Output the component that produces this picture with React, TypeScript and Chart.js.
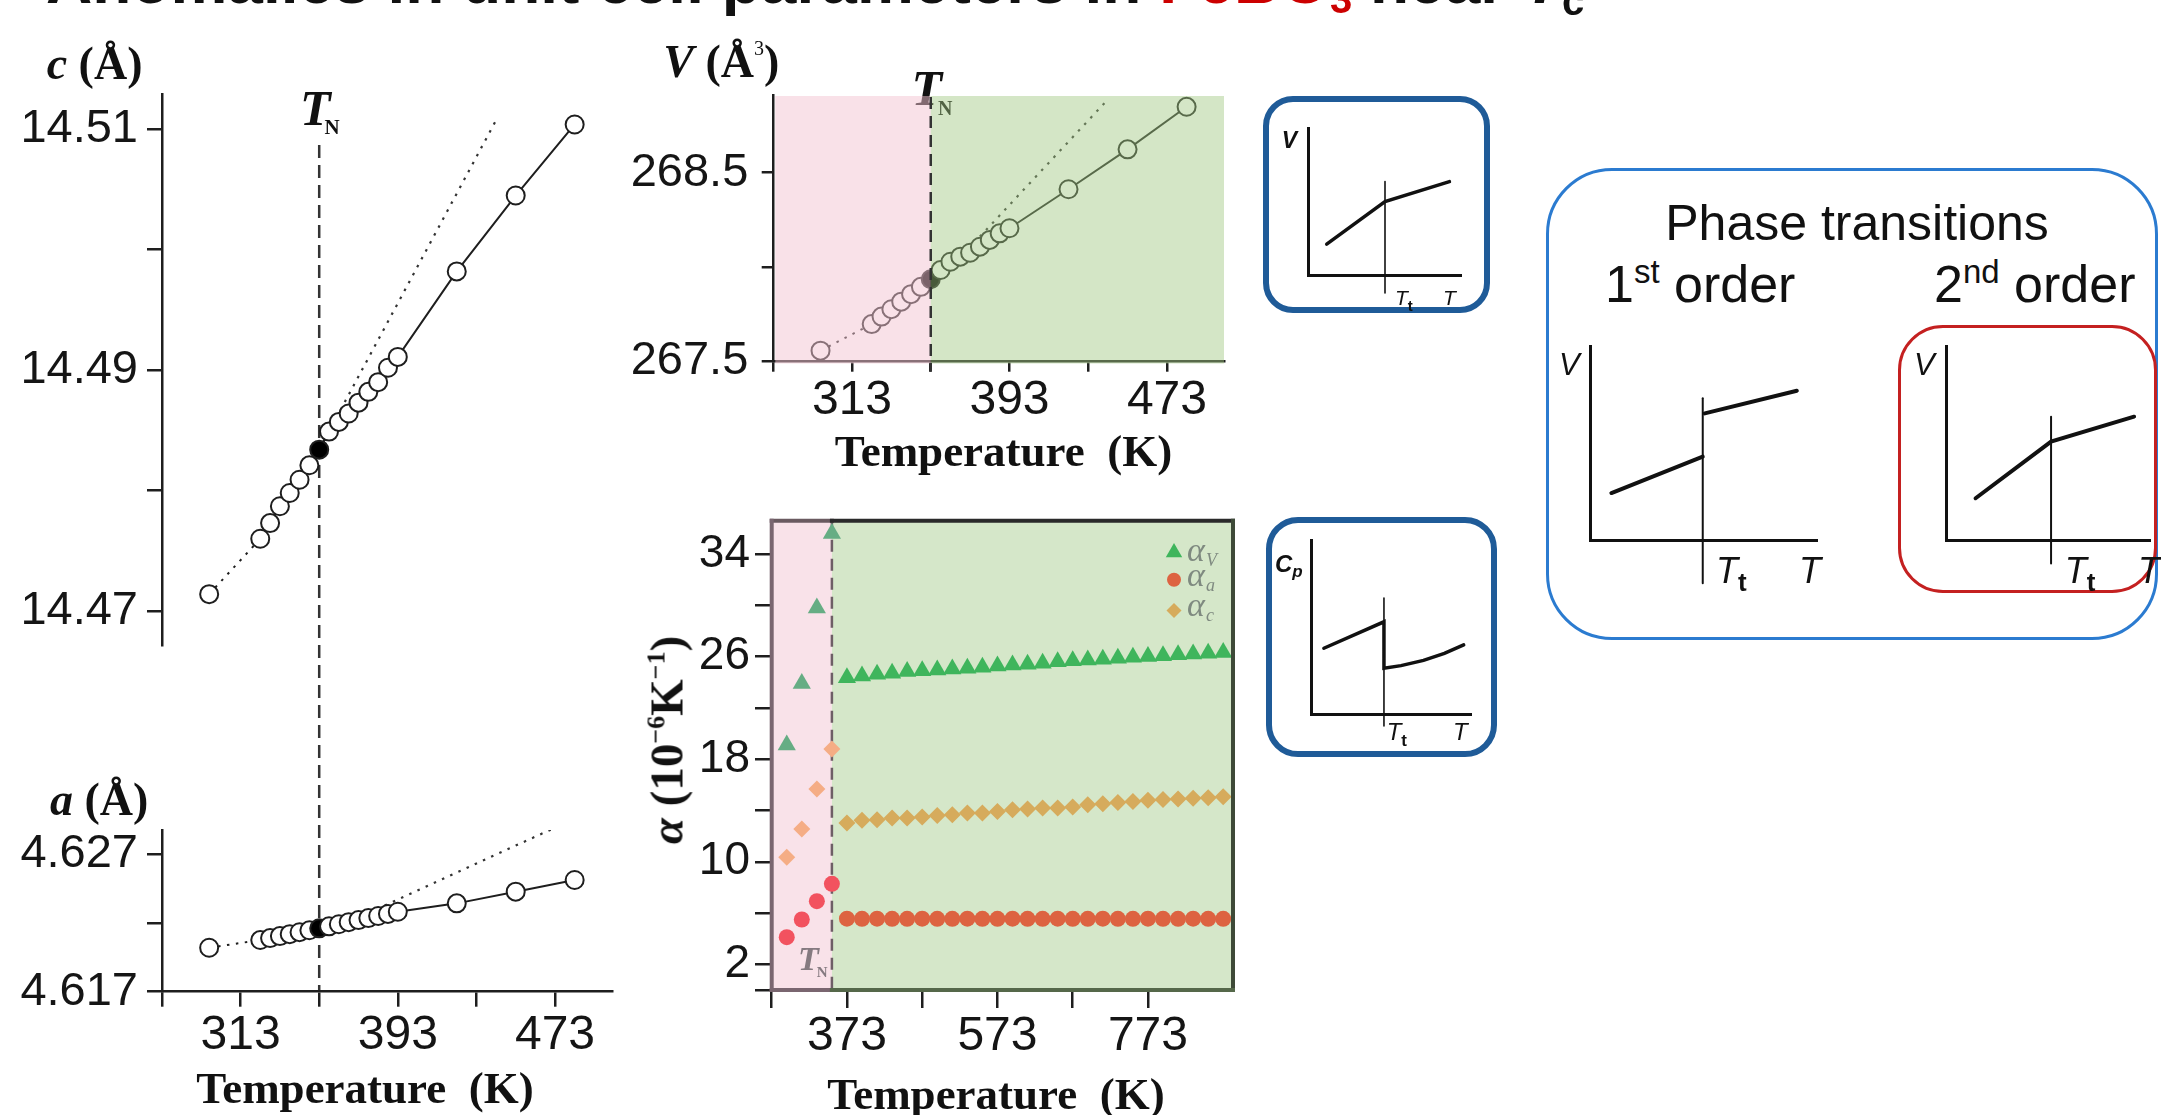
import React, { useEffect, useRef } from "react";
import { Chart, registerables } from "chart.js";

Chart.register(...registerables);

const SANS = "'Liberation Sans', Arial, Helvetica, sans-serif";
const SERIF = "'Liberation Serif', 'Times New Roman', Times, serif";
const INK = "#1e1e1e";

// ---------------- data ----------------
const T_N = 353;
const cellTemps = [297, 323, 328, 333, 338, 343, 348, 353, 358, 363, 368, 373, 378, 383, 388, 393, 423, 453, 483];
const cValues = [14.4714, 14.476, 14.4773, 14.4787, 14.4798, 14.4809, 14.4821, 14.4834, 14.4849, 14.4857, 14.4864, 14.4873, 14.4882, 14.489, 14.4902, 14.4911, 14.4982, 14.5045, 14.5104];
const aValues = [4.6202, 4.62076, 4.6209, 4.62105, 4.62119, 4.62133, 4.62147, 4.62161, 4.62176, 4.62191, 4.62206, 4.62221, 4.62236, 4.62251, 4.62266, 4.62282, 4.62343, 4.62428, 4.62513];
const vValues = [267.555, 267.696, 267.736, 267.775, 267.815, 267.855, 267.894, 267.934, 267.983, 268.027, 268.054, 268.075, 268.107, 268.143, 268.178, 268.205, 268.412, 268.624, 268.85];

const cTrendT = [353, 443.5];
const cTrendY = [14.4834, 14.5109];
const aTrendT = [353, 478.5];
const aTrendY = [4.6211, 4.6293];
const vTrendT = [353, 442.4];
const vTrendY = [267.881, 268.882];

const tempTicks = [273, 313, 353, 393, 433, 473];
const tempLabels = [313, 393, 473];
const cTicks = [14.47, 14.48, 14.49, 14.5, 14.51];
const cLabels = [14.47, 14.49, 14.51];
const aTicks = [4.617, 4.622, 4.627];
const aLabels = [4.617, 4.627];
const vTicks = [267.5, 268.0, 268.5];
const vLabels = [267.5, 268.5];

const alphaTempsLow = [293, 313, 333, 353];
const alphaVLow = [19.1, 23.9, 29.8, 35.6];
const alphaCLow = [10.35, 12.56, 15.67, 18.79];
const alphaALow = [4.12, 5.5, 6.93, 8.28];
const alphaTempsHigh = [373, 393, 413, 433, 453, 473, 493, 513, 533, 553, 573, 593, 613, 633, 653, 673, 693, 713, 733, 753, 773, 793, 813, 833, 853, 873];
const alphaVHigh = [24.36, 24.49, 24.62, 24.7, 24.83, 24.9, 24.96, 25.04, 25.09, 25.17, 25.27, 25.35, 25.4, 25.48, 25.6, 25.68, 25.74, 25.79, 25.87, 25.95, 26.0, 26.07, 26.14, 26.2, 26.27, 26.33];
const alphaCHigh = [13.03, 13.23, 13.28, 13.41, 13.41, 13.49, 13.6, 13.67, 13.8, 13.8, 13.93, 14.06, 14.12, 14.2, 14.2, 14.27, 14.45, 14.53, 14.63, 14.71, 14.79, 14.85, 14.9, 14.95, 15.0, 15.08];
const alphaAHigh = [5.56, 5.55, 5.56, 5.55, 5.55, 5.56, 5.55, 5.55, 5.56, 5.55, 5.55, 5.56, 5.55, 5.55, 5.56, 5.55, 5.55, 5.56, 5.55, 5.55, 5.56, 5.55, 5.55, 5.56, 5.55, 5.55];
const alphaTempTicks = [273, 373, 473, 573, 673, 773];
const alphaTempLabels = [373, 573, 773];
const alphaTicks = [0, 2, 6, 10, 14, 18, 22, 26, 30, 34];
const alphaLabels = [2, 10, 18, 26, 34];

// schematic sketches (arbitrary units 0..10)
const sketchVT = [1.2, 5.0, 9.2];
const sketchV = [2.1, 5.0, 6.35];
const sketchVTtX = [5.0, 5.0];
const sketchVTtY = [-1.22, 6.35];
const sketchCpT = [0.8, 4.54, 4.54, 5.6, 7.0, 8.3, 9.5];
const sketchCp = [3.78, 5.3, 2.63, 2.78, 3.08, 3.48, 3.97];
const sketchCpTtX = [4.54, 4.54];
const sketchCpTtY = [-0.69, 6.67];
const firstLowT = [0.93, 4.96];
const firstLowV = [2.43, 4.31];
const firstHighT = [5.05, 9.11];
const firstHighV = [6.55, 7.72];
const firstTtX = [4.96, 4.96];
const firstTtY = [-2.24, 7.33];
const secondT = [1.45, 5.15, 9.22];
const secondV = [2.16, 5.09, 6.38];
const secondTtX = [5.15, 5.15];
const secondTtY = [-1.21, 6.38];

// ---------------- helpers ----------------
type Pad = { left: number; right: number; top: number; bottom: number };

const pts = (xs: number[], ys: number[]) => xs.map((x, i) => ({ x, y: ys[i] }));

function baseOptions(padding: Pad) {
  return {
    responsive: false,
    maintainAspectRatio: false,
    animation: false as const,
    devicePixelRatio: 1,
    events: [] as any[],
    layout: { padding },
    plugins: { legend: { display: false }, tooltip: { enabled: false }, title: { display: false } },
  };
}

function fixedTicks(values: number[]) {
  return (scale: any) => {
    scale.ticks = values.map((v) => ({ value: v }));
  };
}
function labelOnly(labels: number[], digits: number) {
  return (value: any) => {
    const v = Number(value);
    return labels.some((l) => Math.abs(l - v) < 1e-7) ? v.toFixed(digits) : "";
  };
}

function valueAxis(o: {
  min: number; max: number; ticks: number[]; labels: number[]; digits: number;
  width: number; tickLength: number; padding: number; fontSize: number; border?: boolean;
}) {
  return {
    type: "linear",
    min: o.min,
    max: o.max,
    afterBuildTicks: fixedTicks(o.ticks),
    afterFit: (s: any) => { s.width = o.width; },
    grid: { drawOnChartArea: false, drawTicks: true, tickLength: o.tickLength, color: INK, lineWidth: 2.5 },
    border: { display: o.border !== false, color: INK, width: 2.5 },
    ticks: { autoSkip: false, callback: labelOnly(o.labels, o.digits), padding: o.padding, color: "#151515", font: { family: SANS, size: o.fontSize } },
  };
}

function tempAxis(o: {
  min: number; max: number; ticks: number[]; labels: number[];
  height: number; tickLength: number; padding: number; border?: boolean;
}) {
  return {
    type: "linear",
    min: o.min,
    max: o.max,
    afterBuildTicks: fixedTicks(o.ticks),
    afterFit: (s: any) => { s.height = o.height; },
    grid: { drawOnChartArea: false, drawTicks: true, tickLength: o.tickLength, color: INK, lineWidth: 2.5 },
    border: { display: o.border !== false, color: INK, width: 2.5 },
    ticks: { autoSkip: false, maxRotation: 0, minRotation: 0, callback: labelOnly(o.labels, 0), padding: o.padding, color: "#151515", font: { family: SANS, size: 48 } },
  };
}

function cellSeries(xs: number[], ys: number[]) {
  return {
    data: pts(xs, ys),
    borderColor: INK,
    borderWidth: 2,
    tension: 0,
    fill: false,
    pointRadius: 9,
    pointBorderWidth: 2,
    pointBorderColor: INK,
    pointBackgroundColor: xs.map((t) => (t === T_N ? "#000" : "#fff")),
    segment: { borderDash: (ctx: any) => (ctx.p0DataIndex === 0 ? [2.5, 6.5] : undefined) },
  };
}
function trendSeries(xs: number[], ys: number[]) {
  return { data: pts(xs, ys), borderColor: "#333", borderWidth: 2.2, borderDash: [2.5, 6.5], pointRadius: 0, fill: false, tension: 0 };
}

function dashedTN(yTop: number, yBottom: number) {
  return {
    id: "dashedTN",
    beforeDatasetsDraw(chart: any) {
      const x = chart.scales.x.getPixelForValue(T_N);
      const ctx = chart.ctx;
      ctx.save();
      ctx.strokeStyle = "#333";
      ctx.lineWidth = 2.5;
      ctx.setLineDash([13, 7]);
      ctx.beginPath();
      ctx.moveTo(x, yTop);
      ctx.lineTo(x, yBottom);
      ctx.stroke();
      ctx.restore();
    },
  };
}

// ---------------- chart configs ----------------
function cConfig() {
  return {
    type: "line",
    data: { datasets: [cellSeries(cellTemps, cValues), trendSeries(cTrendT, cTrendY)] },
    options: {
      ...baseOptions({ left: 0, right: 28, top: 94, bottom: 470 }),
      scales: {
        x: { type: "linear", min: 273, max: 502, display: false },
        y: valueAxis({ min: 14.467177, max: 14.512931, ticks: cTicks, labels: cLabels, digits: 2, width: 162, tickLength: 15, padding: 9, fontSize: 47 }),
      },
    },
    plugins: [dashedTN(145, 992)],
  };
}

function aConfig() {
  return {
    type: "line",
    data: { datasets: [cellSeries(cellTemps, aValues), trendSeries(aTrendT, aTrendY)] },
    options: {
      ...baseOptions({ left: 0, right: 28, top: 130, bottom: 0 }),
      scales: {
        x: tempAxis({ min: 273, max: 502, ticks: tempTicks, labels: tempLabels, height: 123.3, tickLength: 15, padding: 0 }),
        y: valueAxis({ min: 4.617, max: 4.62877, ticks: aTicks, labels: aLabels, digits: 3, width: 162, tickLength: 15, padding: 9, fontSize: 47 }),
      },
    },
  };
}

const vDecor = {
  id: "vDecor",
  afterDatasetsDraw(chart: any) {
    const ctx = chart.ctx;
    const x = chart.scales.x.getPixelForValue(T_N);
    ctx.save();
    ctx.fillStyle = "#111";
    ctx.textBaseline = "alphabetic";
    ctx.font = `italic bold 50px ${SERIF}`;
    ctx.fillText("T", x - 19.3, 105);
    ctx.font = `bold 20px ${SERIF}`;
    ctx.fillText("N", x + 7.3, 115);
    ctx.restore();
  },
  afterDraw(chart: any) {
    const ctx = chart.ctx;
    const { left, right, top, bottom } = chart.chartArea;
    const x = chart.scales.x.getPixelForValue(T_N);
    ctx.save();
    ctx.fillStyle = "rgba(243,195,209,0.5)";
    ctx.fillRect(left + 2, top + 1, x - left - 2, bottom - top + 1.5);
    ctx.fillStyle = "rgba(159,199,128,0.45)";
    ctx.fillRect(x, top + 1, right - x, bottom - top + 1.5);
    ctx.strokeStyle = "#333";
    ctx.lineWidth = 2.5;
    ctx.setLineDash([12, 7]);
    ctx.beginPath();
    ctx.moveTo(x, top + 2);
    ctx.lineTo(x, bottom + 10.7);
    ctx.stroke();
    ctx.restore();
  },
};

function vConfig() {
  return {
    type: "line",
    data: { datasets: [cellSeries(cellTemps, vValues), trendSeries(vTrendT, vTrendY)] },
    options: {
      ...baseOptions({ left: 0, right: 36, top: 95, bottom: 0 }),
      scales: {
        x: tempAxis({ min: 273, max: 502, ticks: tempTicks, labels: tempLabels, height: 139, tickLength: 10.7, padding: 0 }),
        y: valueAxis({ min: 267.5, max: 268.9126, ticks: vTicks, labels: vLabels, digits: 1, width: 213.3, tickLength: 11.6, padding: 13.4, fontSize: 47 }),
      },
    },
    plugins: [vDecor],
  };
}

function drawMarker(ctx: any, kind: string, x: number, y: number, r: number, color: string) {
  ctx.fillStyle = color;
  ctx.beginPath();
  if (kind === "triangle") {
    ctx.moveTo(x, y - r);
    ctx.lineTo(x + 0.866 * r, y + 0.5 * r);
    ctx.lineTo(x - 0.866 * r, y + 0.5 * r);
  } else if (kind === "circle") {
    ctx.arc(x, y, r, 0, Math.PI * 2);
  } else {
    ctx.moveTo(x, y - r);
    ctx.lineTo(x + r, y);
    ctx.lineTo(x, y + r);
    ctx.lineTo(x - r, y);
  }
  ctx.closePath();
  ctx.fill();
}

const alphaLegend = [
  { kind: "triangle", color: "#3fb55c", sub: "V", r: 9.5, dy: 31.7, ty: 40.1 },
  { kind: "circle", color: "#dd6341", sub: "a", r: 7, dy: 59, ty: 65.3 },
  { kind: "diamond", color: "#d6ab5c", sub: "c", r: 7.5, dy: 89.7, ty: 95.6 },
];

const alphaDecor = {
  id: "alphaDecor",
  beforeDatasetsDraw(chart: any) {
    const ctx = chart.ctx;
    const { left, right, top, bottom } = chart.chartArea;
    const x = chart.scales.x.getPixelForValue(T_N);
    ctx.save();
    ctx.fillStyle = "#f9e2e9";
    ctx.fillRect(left, top, x - left, bottom - top);
    ctx.fillStyle = "#d5e7c9";
    ctx.fillRect(x, top, right - x, bottom - top);
    ctx.strokeStyle = "#6e5e66";
    ctx.lineWidth = 2.5;
    ctx.setLineDash([12, 7]);
    ctx.beginPath();
    ctx.moveTo(x, top);
    ctx.lineTo(x, bottom);
    ctx.stroke();
    ctx.setLineDash([]);
    ctx.fillStyle = "#857a80";
    ctx.font = `italic bold 34px ${SERIF}`;
    ctx.fillText("T", x - 34, bottom - 20);
    ctx.font = `bold 15px ${SERIF}`;
    ctx.fillText("N", x - 15.2, bottom - 13);
    ctx.restore();
  },
  afterDatasetsDraw(chart: any) {
    const ctx = chart.ctx;
    const { left, right, top, bottom } = chart.chartArea;
    const x = chart.scales.x.getPixelForValue(T_N);
    ctx.save();
    ctx.lineWidth = 4;
    ctx.lineCap = "square";
    const seg = (x1: number, y1: number, x2: number, y2: number, c: string) => {
      ctx.strokeStyle = c;
      ctx.beginPath();
      ctx.moveTo(x1, y1);
      ctx.lineTo(x2, y2);
      ctx.stroke();
    };
    seg(left, top, x, top, "#6a5a60");
    seg(x, top, right, top, "#2a2a2a");
    seg(right, top, right, bottom, "#3e4a38");
    seg(left, bottom, x, bottom, "#7a6670");
    seg(x, bottom, right, bottom, "#55684a");
    seg(left, top, left, bottom, "#7a6670");
    // legend
    for (const item of alphaLegend) {
      drawMarker(ctx, item.kind, right - 59, top + item.dy, item.r, item.color);
      ctx.fillStyle = "#7f8a80";
      ctx.font = `italic 34px ${SERIF}`;
      ctx.fillText("\u03b1", right - 46, top + item.ty);
      ctx.font = `italic 18px ${SERIF}`;
      ctx.fillText(item.sub, right - 27, top + item.ty + 5);
    }
    ctx.restore();
  },
};

function alphaConfig() {
  const temps = [...alphaTempsLow, ...alphaTempsHigh];
  const colors = (low: string, high: string) => temps.map((t) => (t <= T_N ? low : high));
  const series = (ys: number[], style: string, r: number, low: string, high: string) => ({
    data: pts(temps, ys),
    showLine: false,
    pointStyle: style,
    pointRadius: r,
    pointBorderWidth: 0,
    pointBackgroundColor: colors(low, high),
    pointBorderColor: colors(low, high),
  });
  return {
    type: "line",
    data: {
      datasets: [
        series([...alphaVLow, ...alphaVHigh], "triangle", 10.5, "#66ad84", "#3fb55c"),
        series([...alphaALow, ...alphaAHigh], "circle", 8, "#f2525f", "#dd6341"),
        series([...alphaCLow, ...alphaCHigh], "rectRot", 8.5, "#f5ad85", "#d6ab5c"),
      ],
    },
    options: {
      ...baseOptions({ left: 0, right: 27, top: 60.7, bottom: 0 }),
      scales: {
        x: tempAxis({ min: 273, max: 886, ticks: alphaTempTicks, labels: alphaTempLabels, height: 125, tickLength: 18, padding: 0, border: false }),
        y: valueAxis({ min: 0, max: 36.6, ticks: alphaTicks, labels: alphaLabels, digits: 0, width: 211.7, tickLength: 16.7, padding: 5, fontSize: 46, border: false }),
      },
    },
    plugins: [alphaDecor],
  };
}

function sketchConfig(padding: Pad, lines: { xs: number[]; ys: number[]; width: number }[]) {
  const axis = (isX: boolean) => ({
    type: "linear",
    min: 0,
    max: 10,
    afterFit: (s: any) => {
      if (isX) s.height = 0;
      else s.width = 0;
    },
    ticks: { display: false },
    grid: { display: false },
    border: { display: true, color: "#111", width: 3 },
  });
  return {
    type: "line",
    data: {
      datasets: lines.map((l) => ({
        data: pts(l.xs, l.ys),
        borderColor: "#111",
        borderWidth: l.width,
        pointRadius: 0,
        fill: false,
        tension: 0,
        clip: false,
        borderCapStyle: "round",
      })),
    },
    options: { ...baseOptions(padding), scales: { x: axis(true), y: axis(false) } },
  };
}

// ---------------- components ----------------
function ChartCanvas(props: { left: number; top: number; width: number; height: number; make: () => any }) {
  const ref = useRef<HTMLCanvasElement | null>(null);
  useEffect(() => {
    if (!ref.current) return;
    const chart = new Chart(ref.current, props.make());
    return () => chart.destroy();
  }, []);
  return (
    <canvas
      ref={ref}
      width={props.width}
      height={props.height}
      style={{ position: "absolute", left: props.left, top: props.top, width: props.width, height: props.height }}
    />
  );
}

function Txt(props: {
  x: number; y: number; size: number; serif?: boolean; bold?: boolean; italic?: boolean;
  color?: string; center?: boolean; children: React.ReactNode;
}) {
  const k = props.serif ? 0.8375 : 0.8465;
  return (
    <div
      style={{
        position: "absolute",
        left: props.x,
        top: props.y - k * props.size,
        fontSize: props.size,
        lineHeight: `${props.size}px`,
        fontFamily: props.serif ? SERIF : SANS,
        fontWeight: props.bold ? 700 : 400,
        fontStyle: props.italic ? "italic" : "normal",
        color: props.color ?? "#111",
        whiteSpace: "pre",
        transform: props.center ? "translateX(-50%)" : undefined,
      }}
    >
      {props.children}
    </div>
  );
}

function Sh(props: { size: number; shift: number; style?: React.CSSProperties; children: React.ReactNode }) {
  return (
    <span style={{ fontSize: props.size, position: "relative", top: props.shift, lineHeight: 0, ...props.style }}>
      {props.children}
    </span>
  );
}

function frame(left: number, top: number, width: number, height: number, bw: number, color: string, radius: number): React.CSSProperties {
  return {
    position: "absolute",
    left,
    top,
    width,
    height,
    boxSizing: "border-box",
    border: `${bw}px solid ${color}`,
    borderRadius: radius,
  };
}

export default function App() {
  return (
    <div style={{ position: "fixed", left: 0, top: 0, width: 2161, height: 1115, overflow: "hidden", background: "#fff" }}>
      {/* framed boxes */}
      <div style={frame(1263, 96, 227, 217, 6, "#1f5b98", 30)} />
      <div style={frame(1266, 517, 231, 240, 6, "#1f5b98", 32)} />
      <div style={frame(1546, 168, 612, 472, 3, "#2b7bd0", 66)} />
      <div style={frame(1898, 325, 259, 268, 3, "#c42020", 45)} />

      {/* data charts */}
      <ChartCanvas left={0} top={0} width={640} height={1115} make={cConfig} />
      <ChartCanvas left={0} top={700} width={640} height={415} make={aConfig} />
      <ChartCanvas left={560} top={0} width={700} height={500} make={vConfig} />
      <ChartCanvas left={560} top={460} width={700} height={655} make={alphaConfig} />

      {/* schematic sketches */}
      <ChartCanvas
        left={1263}
        top={96}
        width={227}
        height={217}
        make={() =>
          sketchConfig({ left: 45.3, right: 28.3, top: 32, bottom: 38 }, [
            { xs: sketchVT, ys: sketchV, width: 3.5 },
            { xs: sketchVTtX, ys: sketchVTtY, width: 1.6 },
          ])
        }
      />
      <ChartCanvas
        left={1266}
        top={517}
        width={231}
        height={240}
        make={() =>
          sketchConfig({ left: 45, right: 25.3, top: 23, bottom: 43 }, [
            { xs: sketchCpT, ys: sketchCp, width: 3.5 },
            { xs: sketchCpTtX, ys: sketchCpTtY, width: 1.6 },
          ])
        }
      />
      <ChartCanvas
        left={1550}
        top={330}
        width={290}
        height={270}
        make={() =>
          sketchConfig({ left: 40.3, right: 23, top: 16.7, bottom: 60 }, [
            { xs: firstLowT, ys: firstLowV, width: 4 },
            { xs: firstHighT, ys: firstHighV, width: 4 },
            { xs: firstTtX, ys: firstTtY, width: 2 },
          ])
        }
      />
      <ChartCanvas
        left={1900}
        top={330}
        width={258}
        height={270}
        make={() =>
          sketchConfig({ left: 46, right: 8, top: 16.7, bottom: 60 }, [
            { xs: secondT, ys: secondV, width: 4 },
            { xs: secondTtX, ys: secondTtY, width: 2 },
          ])
        }
      />

      {/* title (cut off at the top) */}
      <Txt x={46} y={3} size={64} bold>
        {"Anomalies in unit cell parameters in "}
        <span style={{ color: "#cc0000" }}>
          FeBO<Sh size={40} shift={10}>3</Sh>
        </span>
        {" near "}
        <i>T</i>
        <Sh size={40} shift={12}>c</Sh>
      </Txt>

      {/* left column labels */}
      <Txt x={46.7} y={80} size={46} serif bold>
        <i>c</i>
        {" (Å)"}
      </Txt>
      <Txt x={50} y={816} size={46} serif bold>
        <i>a</i>
        {" (Å)"}
      </Txt>
      <Txt x={300} y={125} size={50} serif bold italic>
        T
        <Sh size={21} shift={8.5} style={{ fontStyle: "normal", marginLeft: -6 }}>
          N
        </Sh>
      </Txt>
      <Txt x={365} y={1103.3} size={45} serif bold center>
        {"Temperature  (K)"}
      </Txt>

      {/* V panel labels */}
      <Txt x={663.3} y={78} size={46} serif bold>
        <i>V</i>
        {" (Å"}
        <Sh size={20} shift={-22} style={{ fontWeight: 400 }}>
          3
        </Sh>
        {")"}
      </Txt>
      <Txt x={1003.5} y={466.7} size={45} serif bold center>
        {"Temperature  (K)"}
      </Txt>

      {/* alpha panel labels */}
      <div
        style={{
          position: "absolute",
          left: 667,
          top: 740,
          transform: "translate(-50%, -50%) rotate(-90deg)",
          fontFamily: SERIF,
          fontWeight: 700,
          fontSize: 47,
          lineHeight: "47px",
          whiteSpace: "nowrap",
          color: "#111",
        }}
      >
        <i>α</i>
        {" (10"}
        <Sh size={26} shift={-18}>
          −6
        </Sh>
        K
        <Sh size={26} shift={-18}>
          −1
        </Sh>
        {")"}
      </div>
      <Txt x={996} y={1110} size={45} serif bold center>
        {"Temperature  (K)"}
      </Txt>

      {/* inset labels */}
      <Txt x={1281.7} y={148.3} size={23} italic bold>
        V
      </Txt>
      <Txt x={1395} y={305} size={21} italic>
        T
        <Sh size={15} shift={6} style={{ fontStyle: "normal", fontWeight: 700 }}>
          t
        </Sh>
      </Txt>
      <Txt x={1443} y={305} size={21} italic>
        T
      </Txt>
      <Txt x={1275} y={572} size={24} italic bold>
        C<Sh size={17} shift={5}>p</Sh>
      </Txt>
      <Txt x={1386.7} y={740} size={24} italic>
        T
        <Sh size={17} shift={6} style={{ fontStyle: "normal", fontWeight: 700 }}>
          t
        </Sh>
      </Txt>
      <Txt x={1453} y={740} size={24} italic>
        T
      </Txt>

      {/* phase transitions box */}
      <Txt x={1857} y={240} size={50} center>
        Phase transitions
      </Txt>
      <Txt x={1605} y={301.7} size={52}>
        1<Sh size={33} shift={-19}>st</Sh>
        {" order"}
      </Txt>
      <Txt x={1934} y={301.7} size={52}>
        2<Sh size={33} shift={-19}>nd</Sh>
        {" order"}
      </Txt>
      <Txt x={1559} y={375} size={31} italic>
        V
      </Txt>
      <Txt x={1716} y={583} size={36} italic>
        T
        <Sh size={26} shift={8} style={{ fontStyle: "normal", fontWeight: 700 }}>
          t
        </Sh>
      </Txt>
      <Txt x={1799} y={583} size={36} italic>
        T
      </Txt>
      <Txt x={1914} y={375} size={31} italic>
        V
      </Txt>
      <Txt x={2064.7} y={583} size={36} italic>
        T
        <Sh size={26} shift={8} style={{ fontStyle: "normal", fontWeight: 700 }}>
          t
        </Sh>
      </Txt>
      <Txt x={2138} y={583} size={36} italic>
        T
      </Txt>
    </div>
  );
}
